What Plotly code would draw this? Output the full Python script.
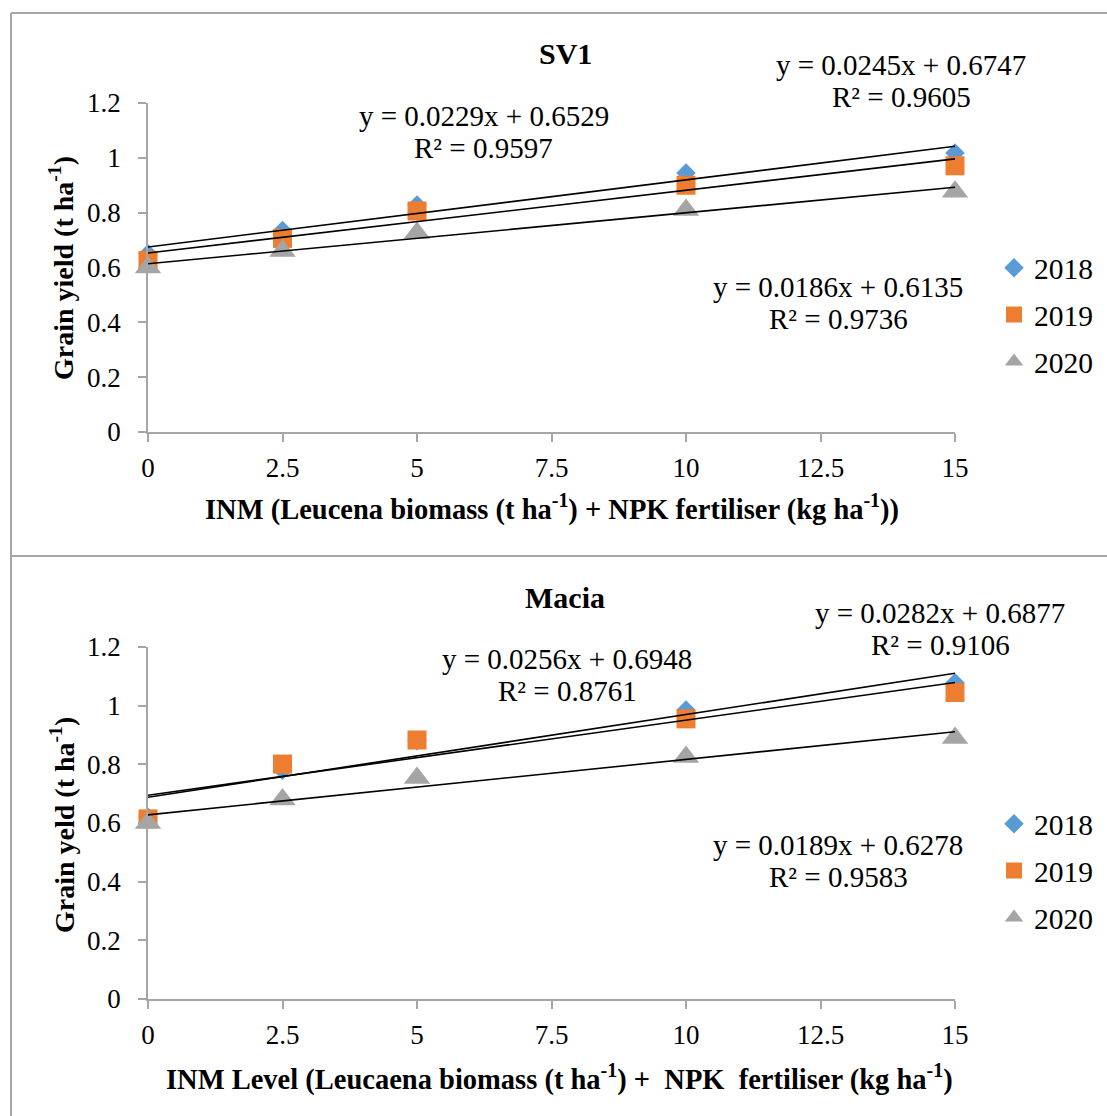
import plotly.graph_objects as go

# ---------------- data ----------------
x_levels = [0, 2.5, 5, 10, 15]
years = ["2018", "2019", "2020"]

sv1_2018 = [0.650, 0.735, 0.828, 0.945, 1.018]
sv1_2019 = [0.626, 0.706, 0.806, 0.900, 0.971]
sv1_2020 = [0.600, 0.660, 0.726, 0.810, 0.876]

macia_2018 = [0.620, 0.780, 0.880, 0.985, 1.078]
macia_2019 = [0.614, 0.801, 0.883, 0.955, 1.045]
macia_2020 = [0.600, 0.680, 0.753, 0.825, 0.890]

sv1_slopes = [0.0245, 0.0229, 0.0186]
sv1_intercepts = [0.6747, 0.6529, 0.6135]
sv1_r2 = [0.9605, 0.9597, 0.9736]

macia_slopes = [0.0282, 0.0256, 0.0189]
macia_intercepts = [0.6877, 0.6948, 0.6278]
macia_r2 = [0.9106, 0.8761, 0.9583]

x_tick_vals = [0, 2.5, 5, 7.5, 10, 12.5, 15]
x_tick_text = ["0", "2.5", "5", "7.5", "10", "12.5", "15"]
y_tick_vals = [0, 0.2, 0.4, 0.6, 0.8, 1.0, 1.2]
y_tick_text = ["0", "0.2", "0.4", "0.6", "0.8", "1", "1.2"]

titles = ["SV1", "Macia"]
x_titles = [
    "INM (Leucena biomass (t ha<sup>-1</sup>) + NPK fertiliser (kg ha<sup>-1</sup>))",
    "INM Level (Leucaena biomass (t ha<sup>-1</sup>) +&nbsp; NPK&nbsp; fertiliser (kg ha<sup>-1</sup>)",
]
y_titles = ["Grain yield (t ha<sup>-1</sup>)", "Grain yeld (t ha<sup>-1</sup>)"]

# ---------------- layout helpers ----------------
W, H = 1107, 1116
FONT = "Liberation Serif"
colors = ["#5B9BD5", "#ED7D31", "#A5A5A5"]
symbols = ["diamond", "square", "triangle-up"]
sizes = [15, 19, 23]
AXIS_COL = "#A6A6A6"


def fx(px):
    return px / W


def fy(py):
    return 1 - py / H


fig = go.Figure()

panels = [
    dict(data=[sv1_2018, sv1_2019, sv1_2020], slopes=sv1_slopes, ints=sv1_intercepts, r2=sv1_r2,
         xa="x", ya="y", legend="legend",
         plot_top=103, plot_bottom=432,
         eq_pos=[(901, 65), (484, 116), (838, 287)],
         title_pos=(565, 53), xtitle_pos=(552, 507), ytitle_pos=(62, 268), legend_mid=315),
    dict(data=[macia_2018, macia_2019, macia_2020], slopes=macia_slopes, ints=macia_intercepts, r2=macia_r2,
         xa="x2", ya="y2", legend="legend2",
         plot_top=647, plot_bottom=999,
         eq_pos=[(940, 613), (567, 659), (838, 845)],
         title_pos=(565, 597), xtitle_pos=(559, 1077), ytitle_pos=(62, 825), legend_mid=871),
]

annotations = []
for pi, p in enumerate(panels):
    # markers
    for i, yr in enumerate(years):
        fig.add_trace(go.Scatter(
            x=x_levels, y=p["data"][i], mode="markers", name=yr,
            xaxis=p["xa"], yaxis=p["ya"], legend=p["legend"], legendgroup=f"{pi}-{yr}",
            marker=dict(symbol=symbols[i], size=sizes[i], color=colors[i], line=dict(width=0)),
            cliponaxis=False,
        ))
    # trendlines
    for i, yr in enumerate(years):
        xs = [x_levels[0], x_levels[-1]]
        ys = [p["slopes"][i] * v + p["ints"][i] for v in xs]
        fig.add_trace(go.Scatter(
            x=xs, y=ys, mode="lines", showlegend=False,
            xaxis=p["xa"], yaxis=p["ya"],
            line=dict(color="black", width=1.6), cliponaxis=False, hoverinfo="skip",
        ))
        cx, cy = p["eq_pos"][i]
        annotations.append(dict(
            x=fx(cx), y=fy(cy), xref="paper", yref="paper", showarrow=False,
            xanchor="center", yanchor="middle",
            text=f"y = {p['slopes'][i]:.4f}x + {p['ints'][i]:.4f}",
            font=dict(family=FONT, size=29, color="black")))
        annotations.append(dict(
            x=fx(cx), y=fy(cy + 32), xref="paper", yref="paper", showarrow=False,
            xanchor="center", yanchor="middle",
            text=f"R² = {p['r2'][i]:.4f}",
            font=dict(family=FONT, size=29, color="black")))
    # titles
    tx, ty = p["title_pos"]
    annotations.append(dict(x=fx(tx), y=fy(ty), xref="paper", yref="paper", showarrow=False,
                            xanchor="center", yanchor="middle", text=f"<b>{titles[pi]}</b>",
                            font=dict(family=FONT, size=30, color="black")))
    tx, ty = p["xtitle_pos"]
    annotations.append(dict(x=fx(tx), y=fy(ty), xref="paper", yref="paper", showarrow=False,
                            xanchor="center", yanchor="middle", text=f"<b>{x_titles[pi]}</b>",
                            font=dict(family=FONT, size=28.5, color="black")))
    tx, ty = p["ytitle_pos"]
    annotations.append(dict(x=fx(tx), y=fy(ty), xref="paper", yref="paper", showarrow=False,
                            xanchor="center", yanchor="middle", textangle=-90,
                            text=f"<b>{y_titles[pi]}</b>",
                            font=dict(family=FONT, size=28, color="black")))

axis_common = dict(showline=True, linecolor=AXIS_COL, linewidth=1.5, ticks="outside",
                   tickcolor=AXIS_COL, ticklen=8, tickwidth=1.5, showgrid=False, zeroline=False,
                   tickfont=dict(family=FONT, size=27, color="black"), mirror=False,
                   automargin=False)

layout = dict(
    width=W, height=H, margin=dict(l=0, r=0, t=0, b=0, pad=0, autoexpand=False),
    paper_bgcolor="white", plot_bgcolor="white",
    annotations=annotations,
    shapes=[
        dict(type="line", xref="paper", yref="paper", x0=fx(11), x1=fx(1107), y0=fy(13), y1=fy(13),
             line=dict(color=AXIS_COL, width=2)),
        dict(type="line", xref="paper", yref="paper", x0=fx(11), x1=fx(11), y0=fy(13), y1=fy(1116),
             line=dict(color=AXIS_COL, width=2)),
        dict(type="line", xref="paper", yref="paper", x0=fx(11), x1=fx(1107), y0=fy(556), y1=fy(556),
             line=dict(color=AXIS_COL, width=2)),
    ],
)

for pi, p in enumerate(panels):
    suffix = "" if pi == 0 else "2"
    layout["xaxis" + suffix] = dict(axis_common, domain=[fx(148), fx(955)], range=[0, 15],
                                    tickvals=x_tick_vals, ticktext=x_tick_text,
                                    anchor="y" + suffix, ticklabelstandoff=3)
    layout["yaxis" + suffix] = dict(axis_common, domain=[fy(p["plot_bottom"]), fy(p["plot_top"])],
                                    range=[0, 1.2], tickvals=y_tick_vals, ticktext=y_tick_text,
                                    anchor="x" + suffix, ticklabelstandoff=12)
    layout[p["legend"]] = dict(x=fx(994), y=fy(p["legend_mid"]), xanchor="left", yanchor="middle",
                               bgcolor="rgba(0,0,0,0)", borderwidth=0, tracegroupgap=5.5,
                               itemwidth=30,
                               font=dict(family=FONT, size=29.5, color="black"))

fig.update_layout(**layout)
fig.write_html(
    "out.html",
    config={"displayModeBar": False},
    post_script="document.body.style.margin='0';document.body.style.overflow='hidden';",
)
